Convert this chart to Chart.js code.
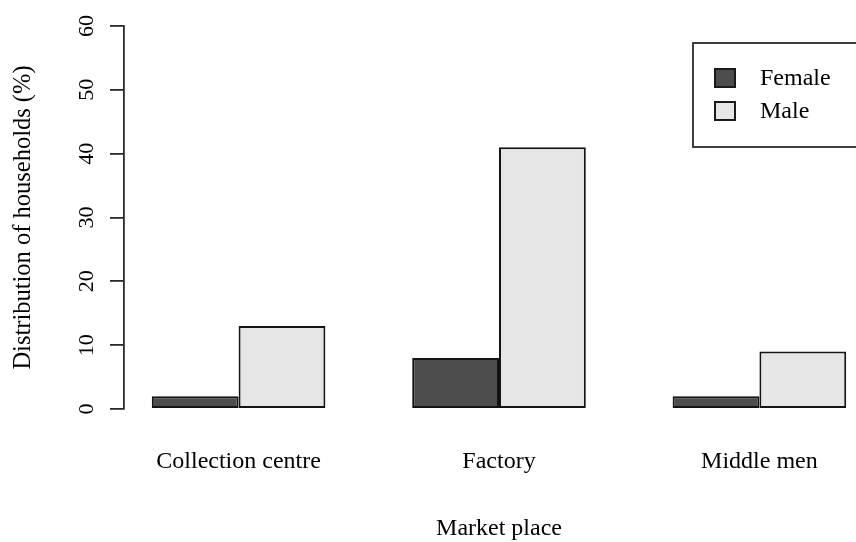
<!DOCTYPE html>
<html>
<head>
<meta charset="utf-8">
<script src="https://cdn.jsdelivr.net/npm/chart.js@4/dist/chart.umd.min.js"></script>
<style>
  html, body { margin: 0; padding: 0; overflow: hidden; background: #ffffff; }
  #wrap { position: absolute; left: 0; top: 0; width: 874px; height: 542px; }
</style>
</head>
<body>
<div id="wrap"><canvas id="chart"></canvas></div>
<script>
// Market place categories and their positions on the x axis (bar-group centres)
const categories = ['Collection centre', 'Factory', 'Middle men'];
const categoryPositions = [2, 5, 8];

// Share of households (%) by gender
const femaleValues = [2, 8, 2];
const maleValues = [13, 41, 9];

// Y axis tick values
const yTicks = [0, 10, 20, 30, 40, 50, 60];

const FONT = '"Liberation Serif", "Times New Roman", serif';
const INK = '#000000';
const AXIS = '#2b2b2b';

// Boxed legend in the top-right corner of the plot
const boxLegend = {
  id: 'boxLegend',
  afterDraw(chart) {
    const { ctx, chartArea } = chart;
    const left = chartArea.right - 181;
    const top = chartArea.top + 17;
    const right = chartArea.right + 2;
    const bottom = top + 104;
    ctx.save();
    ctx.lineWidth = 1.8;
    ctx.strokeStyle = AXIS;
    ctx.strokeRect(left, top, right - left, bottom - top);
    ctx.font = '24px ' + FONT;
    ctx.textBaseline = 'alphabetic';
    ctx.textAlign = 'left';
    chart.data.datasets.forEach((ds, i) => {
      const sy = top + 26 + i * 33;
      ctx.fillStyle = ds.backgroundColor;
      ctx.fillRect(left + 22, sy, 20, 18);
      ctx.lineWidth = 2;
      ctx.strokeStyle = '#1a1a1a';
      ctx.strokeRect(left + 22, sy, 20, 18);
      ctx.fillStyle = INK;
      ctx.fillText(ds.label, left + 67, sy + 16);
    });
    ctx.restore();
  }
};

const makePoints = (vals) => vals.map((v, i) => ({ x: categoryPositions[i], y: v }));

new Chart(document.getElementById('chart'), {
  type: 'bar',
  data: {
    datasets: [
      {
        label: 'Female',
        data: makePoints(femaleValues),
        backgroundColor: '#4d4d4d',
        borderColor: '#141414',
        borderWidth: 2,
        borderSkipped: false
      },
      {
        label: 'Male',
        data: makePoints(maleValues),
        backgroundColor: '#e6e6e6',
        borderColor: '#141414',
        borderWidth: 2,
        borderSkipped: false
      }
    ]
  },
  options: {
    responsive: true,
    maintainAspectRatio: false,
    animation: false,
    events: [],
    layout: { padding: { top: 26, right: 0, bottom: 0, left: 0 } },
    datasets: {
      bar: { categoryPercentage: 2 / 3, barPercentage: 1, grouped: true }
    },
    plugins: {
      legend: { display: false },
      tooltip: { enabled: false }
    },
    scales: {
      x: {
        type: 'linear',
        min: 0.68,
        max: 9.32,
        offset: false,
        grid: { display: false, drawTicks: false },
        border: { display: false },
        afterBuildTicks(scale) {
          scale.ticks = categoryPositions.map(v => ({ value: v }));
        },
        afterFit(scale) { scale.height = 133; },
        ticks: {
          padding: 38,
          maxRotation: 0,
          minRotation: 0,
          autoSkip: false,
          color: INK,
          font: { family: FONT, size: 24 },
          callback: (value) => categories[categoryPositions.indexOf(value)] ?? ''
        },
        title: {
          display: true,
          text: 'Market place',
          color: INK,
          font: { family: FONT, size: 24, lineHeight: 1.1 },
          padding: { top: 0, bottom: 0 }
        }
      },
      y: {
        min: 0,
        max: 60,
        afterBuildTicks(scale) {
          scale.ticks = yTicks.map(v => ({ value: v }));
        },
        afterFit(scale) { scale.width = 124; },
        grid: {
          display: true,
          drawOnChartArea: false,
          drawTicks: true,
          tickLength: 14,
          color: AXIS,
          lineWidth: 1.8
        },
        border: { display: true, color: AXIS, width: 1.8 },
        ticks: {
          padding: 12,
          minRotation: 90,
          maxRotation: 90,
          crossAlign: 'center',
          color: INK,
          font: { family: FONT, size: 22 }
        },
        title: {
          display: true,
          text: 'Distribution of households (%)',
          color: INK,
          font: { family: FONT, size: 24.5, lineHeight: 1.2 },
          padding: { top: 9, bottom: 0 }
        }
      }
    }
  },
  plugins: [boxLegend]
});
</script>
</body>
</html>
